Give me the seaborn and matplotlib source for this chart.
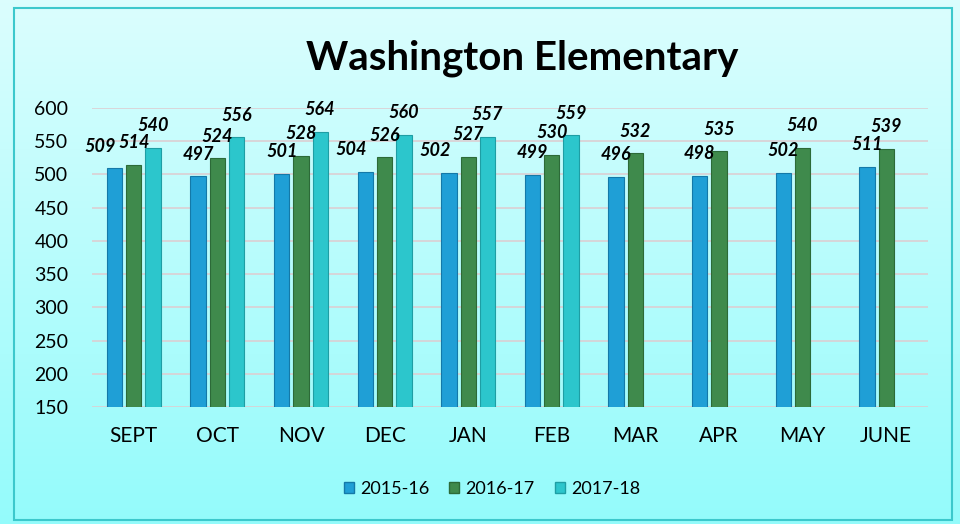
import numpy as np
import pandas as pd
import matplotlib
matplotlib.use("Agg")
import matplotlib.pyplot as plt
from matplotlib.patches import Rectangle
import seaborn as sns

months = ["SEPT", "OCT", "NOV", "DEC", "JAN", "FEB", "MAR", "APR", "MAY", "JUNE"]
series_names = ["2015-16", "2016-17", "2017-18"]
s2015 = [509, 497, 501, 504, 502, 499, 496, 498, 502, 511]
s2016 = [514, 524, 528, 526, 527, 530, 532, 535, 540, 539]
s2017 = [540, 556, 564, 560, 557, 559, np.nan, np.nan, np.nan, np.nan]
yticks = [150, 200, 250, 300, 350, 400, 450, 500, 550, 600]
title = "Washington Elementary"

colors = ["#1f9fd6", "#3f8a4c", "#2cc6cc"]
edges = ["#1479a8", "#2c6a38", "#1e9ea4"]

rows = []
for name, vals in zip(series_names, [s2015, s2016, s2017]):
    for m, v in zip(months, vals):
        rows.append({"month": m, "season": name, "score": v})
df = pd.DataFrame(rows)

sns.set_theme(style="white")
plt.rcParams["font.family"] = ["Lato", "DejaVu Sans"]
plt.rcParams["text.color"] = "black"
plt.rcParams["xtick.color"] = "black"
plt.rcParams["ytick.color"] = "black"

fig = plt.figure(figsize=(9.6, 5.24), dpi=100)

# gradient background
bg = fig.add_axes([0, 0, 1, 1], zorder=-10)
grad = np.linspace(0, 1, 256).reshape(-1, 1)
top = np.array([0.86, 0.995, 0.995])
bot = np.array([0.58, 0.985, 0.985])
img = top[None, None, :] * (1 - grad[..., None]) + bot[None, None, :] * grad[..., None]
bg.imshow(img, aspect="auto", extent=[0, 1, 0, 1])
bg.set_xlim(0, 1)
bg.set_ylim(0, 1)
bg.axis("off")
bg.add_patch(Rectangle((14 / 960, 1 - 520 / 524), 938 / 960, 512 / 524,
                       fill=False, edgecolor="#3cc8cc", lw=1.5))
bg.add_patch(Rectangle((0, 0), 14 / 960, 1, color="white", zorder=-1))

ax = fig.add_axes([92 / 960, 1 - 407 / 524, 836 / 960, 299 / 524])
ax.set_facecolor("none")

sns.barplot(data=df, x="month", y="score", hue="season", order=months,
            hue_order=series_names, palette=colors, width=0.69, gap=0.2,
            ax=ax, legend=False, saturation=1)

for ci, cont in enumerate(ax.containers):
    for patch in cont:
        patch.set_edgecolor(edges[ci])
        patch.set_linewidth(0.8)
        patch.set_zorder(3)

vals_all = [s2015, s2016, s2017]
labels = [[None] * len(months) for _ in series_names]
for ci, cont in enumerate(ax.containers):
    for mi, (patch, v) in enumerate(zip(cont, vals_all[ci])):
        if np.isnan(v):
            continue
        x = patch.get_x() + patch.get_width() / 2
        labels[ci][mi] = ax.annotate(f"{int(v)}", (x, v), xytext=(0, 12),
                                     textcoords="offset points", ha="center",
                                     va="baseline", fontsize=13, fontweight="bold",
                                     fontstyle="italic", color="black", zorder=5)

ax.set_ylim(150, 600)
ax.set_yticks(yticks)
ax.set_yticklabels([str(t) for t in yticks], fontsize=14)
ax.tick_params(axis="x", labelsize=15, pad=14, length=0)
ax.tick_params(axis="y", length=0, pad=17)
ax.yaxis.grid(True, color="#dccfd2", lw=1.2, zorder=0)
ax.set_axisbelow(True)
for s in ax.spines.values():
    s.set_visible(False)
ax.set_xlabel("")
ax.set_ylabel("")
ax.set_xlim(-0.5, 9.5)

# nudge a label left when it would collide with its right neighbour
fig.canvas.draw()
renderer = fig.canvas.get_renderer()
for mi in range(len(months)):
    for ci in range(len(series_names) - 2, -1, -1):
        a, b = labels[ci][mi], labels[ci + 1][mi]
        if a is None or b is None:
            continue
        ba = a.get_window_extent(renderer)
        bb = b.get_window_extent(renderer)
        if ba.overlaps(bb):
            shift = (ba.x1 - bb.x0 + 2) * 72 / fig.dpi
            a.set_position((-shift, 12))

fig.text(522 / 960, 1 - 58 / 524, title, ha="center", va="center",
         fontsize=29, fontweight="bold", color="black")

handles = [Rectangle((0, 0), 1, 1, facecolor=c, edgecolor=e) for c, e in zip(colors, edges)]
fig.legend(handles, series_names, loc="center", bbox_to_anchor=(492 / 960, 1 - 489 / 524),
           ncol=3, frameon=False, fontsize=13, handlelength=0.55, handleheight=0.55,
           handletextpad=0.35, columnspacing=1.1)

fig.savefig("out.png", dpi=100)
